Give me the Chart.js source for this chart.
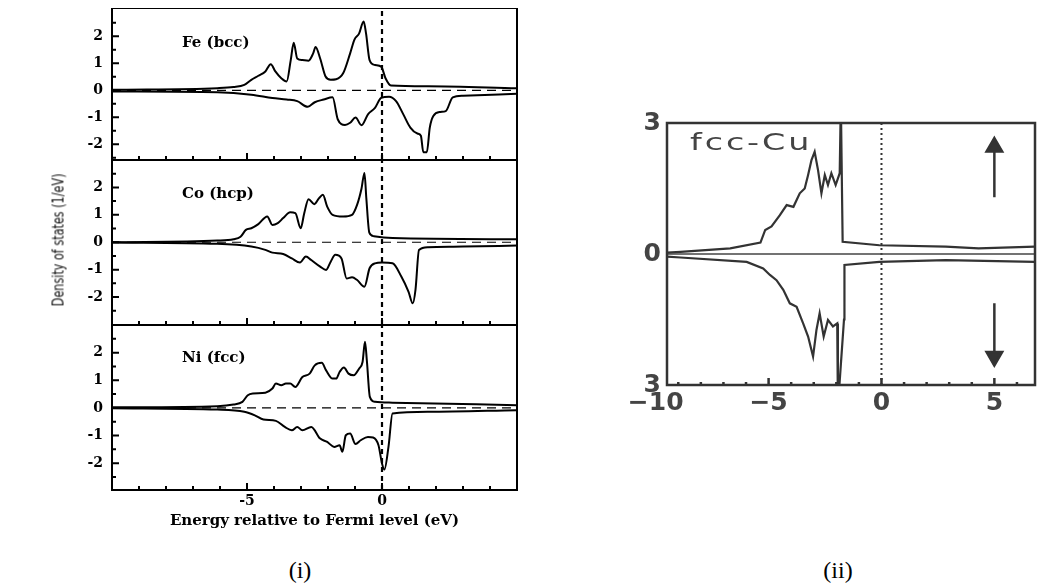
<!DOCTYPE html>
<html>
<head>
<meta charset="utf-8">
<script src="https://cdn.jsdelivr.net/npm/chart.js@4.4.1/dist/chart.umd.min.js"></script>
<style>
  body { margin: 0; background: #fff; width: 1037px; height: 585px; position: relative; overflow: hidden; }
  canvas { position: absolute; }
  .t { position: absolute; white-space: nowrap; transform: translateY(-50%); }
  .lbl { font: bold 15px "DejaVu Serif", serif; color: #000; }
</style>
</head>
<body>
<canvas id="fe" width="530" height="152" style="left:0;top:8px"></canvas>
<canvas id="co" width="530" height="165" style="left:0;top:160px"></canvas>
<canvas id="ni" width="530" height="205" style="left:0;top:325px"></canvas>
<canvas id="cu" width="437" height="325" style="left:600px;top:100px"></canvas>

<div class="t lbl" style="left:182px;top:42px">Fe (bcc)</div>
<div class="t lbl" style="left:182px;top:193px">Co (hcp)</div>
<div class="t lbl" style="left:182px;top:357px">Ni (fcc)</div>
<div class="t" style="left:58px;top:240px;transform:translate(-50%,-50%) rotate(-90deg) scaleX(0.78);font:16px 'Liberation Sans Narrow','DejaVu Sans Condensed','Liberation Sans',sans-serif;color:#111;">Density of states (1/eV)</div>
<div class="t" style="left:690px;top:142px;transform:translateY(-50%) scaleX(1.45);transform-origin:left center;font:23px 'DejaVu Sans',sans-serif;color:#444;letter-spacing:2px;">fcc-Cu</div>
<div class="t" style="left:300px;top:570px;transform:translate(-50%,-50%);font:24px 'Liberation Serif',serif;">(i)</div>
<div class="t" style="left:838px;top:570px;transform:translate(-50%,-50%);font:24px 'Liberation Serif',serif;">(ii)</div>

<script>
// Densidad de estados [energía (eV), DOS (1/eV)]
const feUp = [[-10,0.02],[-6.1,0.08],[-5.5,0.12],[-5.1,0.2],[-4.84,0.39],[-4.58,0.54],[-4.32,0.7],[-4.12,0.97],[-3.95,0.7],[-3.73,0.45],[-3.53,0.33],[-3.38,1.12],[-3.27,1.76],[-3.14,1.18],[-2.95,1.12],[-2.72,1.1],[-2.55,1.37],[-2.46,1.61],[-2.29,1.18],[-2.09,0.51],[-1.9,0.39],[-1.7,0.41],[-1.44,0.63],[-1.18,1.37],[-1.02,1.88],[-0.85,2.1],[-0.68,2.55],[-0.59,2.1],[-0.46,1.12],[-0.26,0.94],[-0.03,0.88],[0.13,0.45],[0.33,0.18],[1.7,0.15],[5,0.08]];
const feDown = [[-10,-0.04],[-6.1,-0.07],[-4.84,-0.16],[-4.06,-0.28],[-3.53,-0.34],[-3.14,-0.4],[-2.75,-0.61],[-2.49,-0.44],[-2.16,-0.34],[-1.83,-0.26],[-1.64,-1.07],[-1.37,-1.28],[-1.18,-1.2],[-0.98,-1.01],[-0.76,-1.29],[-0.52,-0.89],[-0.26,-0.65],[-0.03,-0.28],[0.26,-0.24],[0.52,-0.4],[0.79,-0.89],[1.05,-1.38],[1.31,-1.6],[1.44,-1.68],[1.53,-2.29],[1.66,-2.29],[1.77,-1.38],[1.9,-0.95],[2.16,-0.8],[2.36,-0.77],[2.62,-0.26],[3.0,-0.2],[5,-0.13]];

const coUp = [[-10,0],[-6.1,0.06],[-5.5,0.11],[-5.24,0.2],[-5.04,0.45],[-4.84,0.51],[-4.58,0.66],[-4.25,0.94],[-4.06,0.63],[-3.86,0.7],[-3.66,0.88],[-3.4,1.09],[-3.21,1.06],[-3.01,0.51],[-2.88,1.06],[-2.72,1.57],[-2.51,1.39],[-2.33,1.61],[-2.19,1.73],[-2.03,1.3],[-1.83,1.0],[-1.44,0.94],[-1.11,1.0],[-0.92,1.37],[-0.76,1.95],[-0.65,2.53],[-0.58,1.6],[-0.47,0.35],[-0.3,0.22],[0.39,0.15],[5,0.11]];
const coDown = [[-10,-0.01],[-6.1,-0.06],[-4.84,-0.16],[-4.32,-0.28],[-4.06,-0.38],[-3.66,-0.43],[-3.34,-0.59],[-3.04,-0.74],[-2.82,-0.52],[-2.62,-0.65],[-2.29,-0.89],[-2.07,-1.01],[-1.9,-0.71],[-1.73,-0.46],[-1.5,-0.59],[-1.31,-1.32],[-1.11,-1.28],[-0.92,-1.38],[-0.65,-1.62],[-0.46,-0.95],[-0.26,-0.77],[0,-0.74],[0.39,-0.77],[0.72,-1.26],[0.98,-1.8],[1.14,-2.23],[1.24,-1.74],[1.37,-0.28],[1.7,-0.18],[3.0,-0.16],[5,-0.12]];

const niUp = [[-10,0.02],[-6.1,0.06],[-5.5,0.12],[-5.17,0.22],[-4.97,0.46],[-4.78,0.52],[-4.32,0.55],[-4.06,0.7],[-3.93,0.88],[-3.73,0.82],[-3.56,0.88],[-3.4,0.88],[-3.21,0.76],[-2.95,1.12],[-2.68,1.24],[-2.49,1.54],[-2.23,1.63],[-2.07,1.36],[-1.83,1.06],[-1.7,1.06],[-1.57,1.3],[-1.41,1.46],[-1.24,1.24],[-1.05,1.18],[-0.85,1.42],[-0.72,1.66],[-0.63,2.39],[-0.56,1.7],[-0.45,0.4],[-0.26,0.22],[0.39,0.19],[5,0.1]];
const niDown = [[-10,-0.01],[-6.1,-0.06],[-5.1,-0.14],[-4.71,-0.27],[-4.39,-0.42],[-3.93,-0.47],[-3.6,-0.69],[-3.34,-0.81],[-3.14,-0.69],[-2.95,-0.81],[-2.62,-0.69],[-2.29,-1.11],[-2.03,-1.23],[-1.77,-1.41],[-1.57,-1.35],[-1.47,-1.59],[-1.34,-0.99],[-1.18,-0.93],[-0.98,-1.31],[-0.79,-1.17],[-0.52,-1.05],[-0.33,-1.07],[-0.13,-1.35],[0,-2.01],[0.09,-2.23],[0.24,-1.41],[0.39,-0.2],[1.7,-0.14],[5,-0.08]];

const cuUp = [[-9.5,0.03],[-8.9,0.05],[-6.7,0.13],[-5.36,0.26],[-5.15,0.55],[-4.87,0.63],[-4.5,0.89],[-4.2,1.12],[-3.9,1.08],[-3.62,1.39],[-3.4,1.5],[-3.25,1.81],[-3.1,2.15],[-2.96,2.34],[-2.81,1.92],[-2.66,1.39],[-2.51,1.81],[-2.37,1.58],[-2.22,1.85],[-2.03,1.58],[-1.85,1.85],[-1.8,3.5],[-1.72,0.28],[-0.09,0.2],[2.85,0.17],[4.3,0.13],[6.8,0.17]];
const cuDown = [[-9.5,-0.06],[-8.9,-0.08],[-5.97,-0.18],[-5.24,-0.33],[-4.94,-0.48],[-4.65,-0.6],[-4.35,-0.82],[-4.06,-1.13],[-3.76,-1.21],[-3.47,-1.59],[-3.25,-1.89],[-3.03,-2.35],[-2.88,-1.74],[-2.74,-1.36],[-2.56,-1.89],[-2.37,-1.51],[-2.15,-1.66],[-1.96,-1.59],[-1.93,-3.5],[-1.66,-1.5],[-1.64,-0.25],[-0.09,-0.18],[2.85,-0.14],[6.8,-0.18]];
const cuArrowUp = [[5,1.3],[5,2.45]];
const cuArrowDown = [[5,-1.13],[5,-2.35]];

// Ejes
const energyRange = [-10, 5];
const cuEnergyRange = [-9.5, 6.8];
const dosTicks = [-2, -1, 0, 1, 2];
const dosMinor = [-2.5, -2, -1.5, -1, -0.5, 0, 0.5, 1, 1.5, 2, 2.5];
const energyLabels = [-5, 0];
const energyMinor = [-9, -8, -7, -6, -5, -4, -3, -2, -1, 0, 1, 2, 3, 4];
const energyMajor = [-5, 0];
const cuXTicks = [-10, -5, 0, 5];
const cuXLabels = ["\u221210", "\u22125", "0", "5"];
const cuYTicks = [3, 0, -3];
const cuYLabels = ["3", "0", "3"];
const cuMinor = [-9, -8, -7, -6, -5, -4, -3, -2, -1, 0, 1, 2, 3, 4, 5, 6];
const cuMajor = [-5, 0, 5];

const pts = (arr) => arr.map(([x, y]) => ({ x, y }));

// Marco con marcas hacia dentro
const frame = {
  id: "frame",
  afterDatasetsDraw(chart, args, o) {
    const { ctx, chartArea: a, scales: { x, y } } = chart;
    ctx.save();
    ctx.strokeStyle = o.color;
    ctx.lineWidth = o.width;
    ctx.strokeRect(a.left, a.top, a.right - a.left, a.bottom - a.top);
    ctx.beginPath();
    o.xTicks.forEach(v => {
      const px = x.getPixelForValue(v);
      const len = o.xMajor.includes(v) ? o.major : o.minor;
      ctx.moveTo(px, a.bottom); ctx.lineTo(px, a.bottom - len);
    });
    o.yTicks.forEach(v => {
      const py = y.getPixelForValue(v);
      const len = Number.isInteger(v) ? o.major : o.minor;
      ctx.moveTo(a.left, py); ctx.lineTo(a.left + len, py);
    });
    ctx.stroke();
    ctx.restore();
  }
};

const serif = { family: "'DejaVu Serif', serif", size: 14, weight: "bold" };

const makePanel = (id, up, down, yMin, yMax, bottom) => new Chart(document.getElementById(id), {
  type: "scatter",
  data: {
    datasets: [
      { data: pts(up), showLine: true, borderColor: "#000", borderWidth: 2, pointRadius: 0, cubicInterpolationMode: "monotone" },
      { data: pts(down), showLine: true, borderColor: "#000", borderWidth: 2, pointRadius: 0, cubicInterpolationMode: "monotone" },
      { data: pts([[energyRange[0], 0], [energyRange[1], 0]]), showLine: true, borderColor: "#000", borderWidth: 1.2, borderDash: [9, 6], pointRadius: 0 },
      { data: pts([[0, yMin], [0, yMax]]), showLine: true, borderColor: "#000", borderWidth: 2.2, borderDash: [5, 4], pointRadius: 0 }
    ]
  },
  options: {
    responsive: false,
    animation: false,
    layout: { autoPadding: false, padding: { right: 13 } },
    plugins: {
      legend: { display: false },
      tooltip: { enabled: false },
      frame: { color: "#000", width: 2, xTicks: energyMinor, xMajor: energyMajor, yTicks: dosMinor, major: 7, minor: 4 }
    },
    scales: {
      x: {
        type: "linear", min: energyRange[0], max: energyRange[1],
        display: bottom,
        grid: { display: false, drawTicks: false }, border: { display: false },
        afterBuildTicks: s => { s.ticks = energyLabels.map(v => ({ value: v })); },
        afterFit: s => { s.height = bottom ? 40 : 0; s.paddingLeft = 0; s.paddingRight = 0; },
        ticks: { color: "#000", font: serif, padding: 3, autoSkip: false, maxRotation: 0, callback: v => String(v) },
        title: { display: bottom, text: "Energy relative to Fermi level (eV)", color: "#000", font: { family: "'DejaVu Serif', serif", size: 15, weight: "bold" }, padding: { top: 0, bottom: 0 } }
      },
      y: {
        min: yMin, max: yMax,
        grid: { display: false, drawTicks: false }, border: { display: false },
        afterBuildTicks: s => { s.ticks = dosTicks.map(v => ({ value: v })); },
        afterFit: s => { s.width = 112; s.paddingTop = 0; s.paddingBottom = 0; },
        ticks: { color: "#000", font: serif, padding: 9, callback: v => String(v) }
      }
    }
  },
  plugins: [frame]
});

makePanel("fe", feUp, feDown, -2.58, 3.05, false);
makePanel("co", coUp, coDown, -3.02, 3.0, false);
makePanel("ni", niUp, niDown, -2.97, 3.0, true);

// fcc-Cu
const cuFont = { family: "'DejaVu Sans', sans-serif", size: 25, weight: "bold" };
new Chart(document.getElementById("cu"), {
  type: "scatter",
  data: {
    datasets: [
      { data: pts(cuUp), showLine: true, borderColor: "#333", borderWidth: 2.2, pointRadius: 0 },
      { data: pts(cuDown), showLine: true, borderColor: "#333", borderWidth: 2.2, pointRadius: 0 },
      { data: pts([[cuEnergyRange[0], 0], [cuEnergyRange[1], 0]]), showLine: true, borderColor: "#444", borderWidth: 1.5, pointRadius: 0 },
      { data: pts([[0, -3], [0, 3]]), showLine: true, borderColor: "#333", borderWidth: 2, borderDash: [2, 3], pointRadius: 0 },
      { data: pts(cuArrowUp), showLine: true, borderColor: "#333", borderWidth: 2.5, pointStyle: "triangle", pointRadius: [0, 9], pointBackgroundColor: "#333", pointBorderColor: "#333" },
      { data: pts(cuArrowDown), showLine: true, borderColor: "#333", borderWidth: 2.5, pointStyle: "triangle", pointRotation: 180, pointRadius: [0, 9], pointBackgroundColor: "#333", pointBorderColor: "#333" }
    ]
  },
  options: {
    responsive: false,
    animation: false,
    layout: { autoPadding: false, padding: { top: 23, right: 2 } },
    plugins: {
      legend: { display: false },
      tooltip: { enabled: false },
      frame: { color: "#333", width: 2.5, xTicks: cuMinor, xMajor: cuMajor, yTicks: [], major: 7, minor: 3 }
    },
    scales: {
      x: {
        type: "linear", min: cuEnergyRange[0], max: cuEnergyRange[1],
        grid: { display: false, drawTicks: false }, border: { display: false },
        afterBuildTicks: s => { s.ticks = cuXTicks.map(v => ({ value: v })); },
        afterFit: s => { s.height = 40; s.paddingLeft = 0; s.paddingRight = 0; },
        ticks: { color: "#444", font: cuFont, padding: 3, autoSkip: false, maxRotation: 0, callback: (v, i) => cuXLabels[i] }
      },
      y: {
        min: -3, max: 3,
        grid: { display: false, drawTicks: false }, border: { display: false },
        afterBuildTicks: s => { s.ticks = cuYTicks.map(v => ({ value: v })); },
        afterFit: s => { s.width = 67; s.paddingTop = 0; s.paddingBottom = 0; },
        ticks: { color: "#444", font: cuFont, padding: 6, callback: (v, i) => cuYLabels[i] }
      }
    }
  },
  plugins: [frame]
});
</script>
</body>
</html>
